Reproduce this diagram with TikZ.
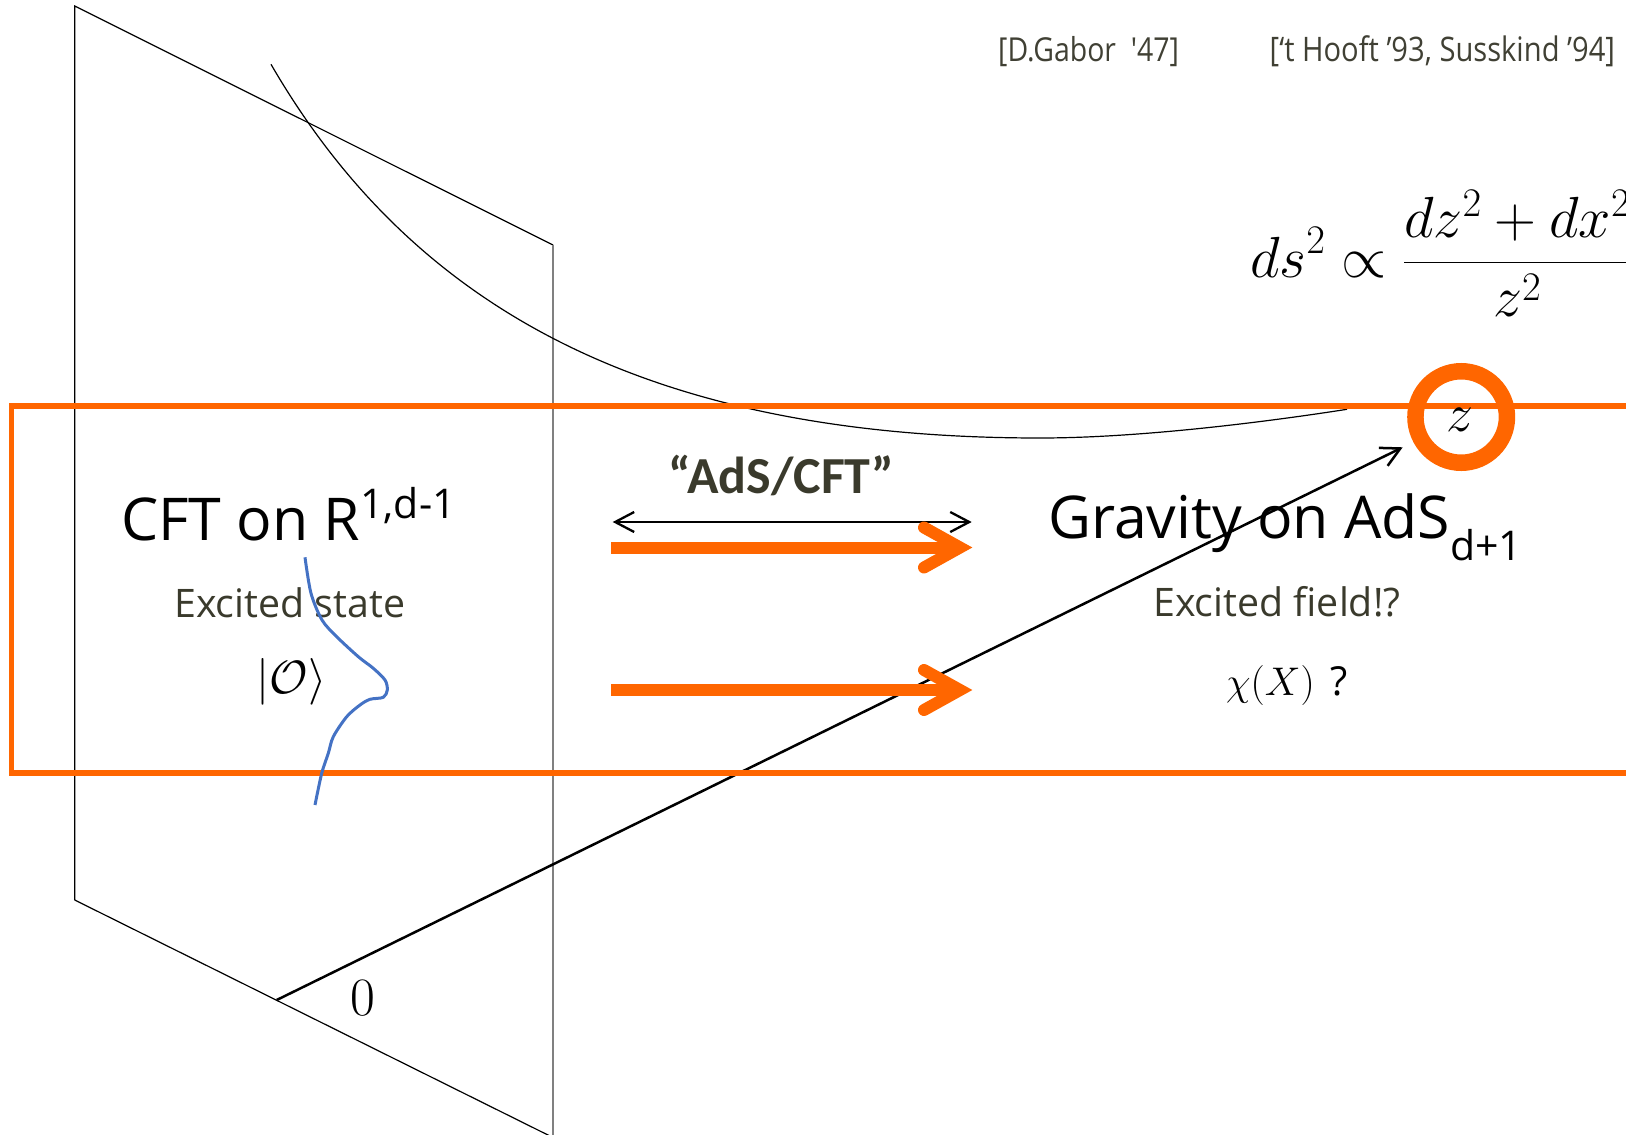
\documentclass[tikz,border=0pt]{standalone}
\usepackage{fix-cm}
\usepackage{fontspec}
\newfontfamily\osans{Open Sans}
\newfontfamily\osnarrow[FakeStretch=0.862,Ligatures=TeXOff]{Open Sans}
\newfontfamily\carlito{Carlito}
\usetikzlibrary{arrows.meta,calc}
\definecolor{hlorange}{RGB}{255,102,0}
\definecolor{waveblue}{RGB}{68,114,196}
\definecolor{olivetext}{RGB}{58,58,44}
\definecolor{refgray}{RGB}{64,64,52}
\definecolor{planegray}{RGB}{128,128,128}
\begin{document}
\begin{tikzpicture}[x=1pt,y=-1pt,
  planeline/.style={line width=1.2pt,black},
  planeedge/.style={line width=1.5pt,planegray},
  geodesic/.style={line width=1.2pt,black},
  axisarrow/.style={line width=2.5pt,black,-{Straight Barb[length=19pt,width=20pt]}},
  dblarrow/.style={line width=2.3pt,black,{Straight Barb[length=19pt,width=20pt]}-{Straight Barb[length=19pt,width=20pt]}},
  orangeframe/.style={line width=5.5pt,hlorange},
  orangeshaft/.style={line width=12pt,hlorange,line cap=butt},
  orangehead/.style={line width=12pt,hlorange,line cap=round,line join=miter},
  ring/.style={circle,draw=hlorange,line width=16.5pt,minimum size=91.5pt,inner sep=0pt},
  wave/.style={line width=3pt,waveblue},
  lbl/.style={inner sep=0pt,anchor=base west},
  bigtext/.style={lbl,font=\osans\fontsize{59}{70}\selectfont},
  subtext/.style={lbl,text=olivetext,font=\osans\fontsize{39.3}{47}\selectfont},
  reftext/.style={lbl,text=refgray,font=\osnarrow\fontsize{33}{40}\selectfont}
]
\useasboundingbox (0,0) rectangle (1626,1135);
\clip (0,0) rectangle (1626,1135);

% boundary plane
\coordinate (pTL) at (74.7,6);
\coordinate (pTR) at (553,245);
\coordinate (pBL) at (74.7,900);
\coordinate (pBR) at (553,1137.5);
\draw[planeline] (pBL) -- (pTL) -- (pTR);
\draw[planeline] (pBL) -- (pBR);
\draw[planeedge] (pTR) -- (pBR);

% geodesic curve
\coordinate (g0) at (271,64.3);
\coordinate (gm) at (1040,438);
\coordinate (g1) at (1347,409.3);
\draw[geodesic] (g0) .. controls (411.6,306.5) and (645,438) .. (gm)
  .. controls (1140,438) and (1267,421.8) .. (g1);

% radial axis
\coordinate (O) at (276.7,1000);
\coordinate (zt) at (1402.7,447.3);
\draw[axisarrow] (O) -- (zt);

% orange frame
\draw[orangeframe] (11.5,406) rectangle (1700,773);

% double arrow
\coordinate (dl) at (612.7,522);
\coordinate (dr) at (971.7,522);
\draw[dblarrow] (dl) -- (dr);

% orange arrows
\coordinate (a1s) at (611,547.5);
\coordinate (a1v) at (960,547.5);
\draw[orangeshaft] (a1s) -- (a1v);
\draw[orangehead] ($(a1v)+(-36,-20)$) -- (a1v) -- ($(a1v)+(-36,20)$);
\coordinate (a2s) at (611,690);
\coordinate (a2v) at (960,690);
\draw[orangeshaft] (a2s) -- (a2v);
\draw[orangehead] ($(a2v)+(-36,-20)$) -- (a2v) -- ($(a2v)+(-36,20)$);

% circle around z
\node[ring] (zc) at (1461.2,417) {};
\node[inner sep=0pt,anchor=base,font=\fontsize{54}{60}\selectfont] (zl) at (1460,431.7) {$z$};

% metric
\node[lbl,font=\fontsize{58}{64}\selectfont] (metric) at (1250,277) {$\displaystyle ds^2\propto\frac{dz^2+dx^2}{z^2}$};

% references
\node[reftext] (gabor) at (998,61.7) {[D.Gabor\ \ '47]};
\node[reftext,font=\osnarrow\fontsize{33.8}{40}\selectfont] (thooft) at (1269.5,61.7) {[‘t Hooft ’93, Susskind ’94]};

% main labels
\node[bigtext] (cft) at (121,540) {CFT on R\raisebox{21.7pt}{\fontsize{41}{46}\selectfont 1,d-1}};
\node[bigtext] (grav) at (1048,538.3) {Gravity on AdS\raisebox{-21.7pt}{\fontsize{41}{46}\selectfont d+1}};
\node[inner sep=0pt,anchor=base,text=olivetext,font=\carlito\bfseries\fontsize{52}{60}\selectfont] (adscft) at (781.5,493.3) {“AdS/CFT”};
\node[subtext] (exstate) at (174,617.3) {Excited state};
\node[subtext] (exfield) at (1153,616.7) {Excited field!?};
\node[lbl,font=\fontsize{46.7}{56}\selectfont] (ket) at (256.7,693.3) {$|\mathcal{O}\rangle$};
\node[lbl,font=\fontsize{40}{48}\selectfont] (chi) at (1226,695) {$\chi(X)$\hspace{16pt}{\osans ?}};
\node[lbl,font=\fontsize{54}{60}\selectfont] (zero) at (350.5,1015) {0};

% wave packet
\draw[wave] plot[smooth] coordinates {(305,557.3) (311,593.3) (322,620) (336.7,636.7) (358.3,656.7) (373.3,668.3) (385,680) (387.3,690) (383.3,697.3) (370,699.3) (360,705) (346.7,716.7) (333.3,736.7) (328.3,753.3) (321.7,773.3) (315,805)};
\end{tikzpicture}
\end{document}
